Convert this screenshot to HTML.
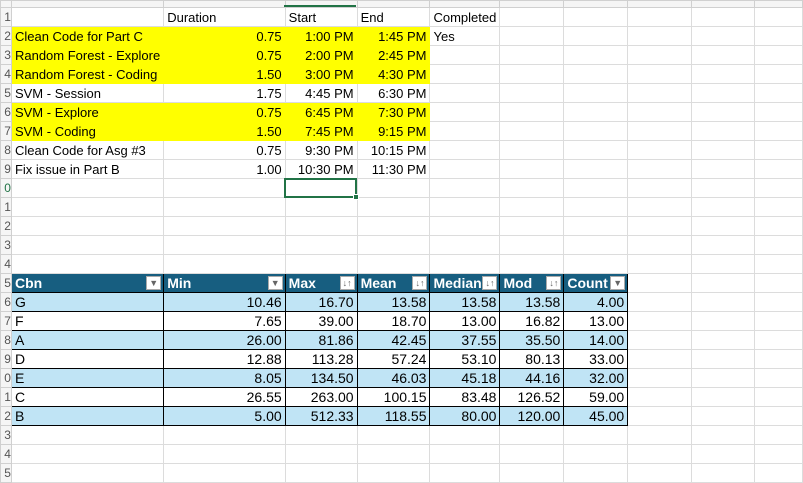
<!DOCTYPE html>
<html><head><meta charset="utf-8">
<style>
*{box-sizing:border-box;margin:0;padding:0}
body{width:803px;height:476px;overflow:hidden;background:#fff;font-family:"Liberation Sans",sans-serif;font-size:13px;color:#000;position:relative}
table{border-collapse:collapse;table-layout:fixed;position:absolute;left:0;top:0}
tr{height:19px}
td{height:18px;border:1px solid #dcdcdc;padding:0 3px;white-space:nowrap;overflow:hidden;line-height:17px}
td.r{text-align:right}
tr.hdr{height:7px}
tr.hdr td{height:6px;background:#f5f5f5;border-color:#d0d0d0;padding:0}
td.rh{background:#f5f5f5;color:#555;font-size:12px;padding:0;text-align:right;border-color:#d0d0d0;overflow:hidden}
td.y{background:#ffff00;border-color:#ffff00}
.t td.c{font-family:"Liberation Sans Narrow","Liberation Sans",sans-serif;font-size:14px;border:1px solid #000}
.t.b td.c{background:#c0e4f5}
.th td.c{background:#175e80;color:#fff;font-weight:bold;font-family:"Liberation Sans Narrow","Liberation Sans",sans-serif;font-size:14px;border:1px solid #000;position:relative}
.dd{position:absolute;right:2px;top:2px;width:15px;height:14px;background:#fff;border:1px solid #aaa;color:#666;font-size:9px;line-height:12px;text-align:center;font-weight:normal}
.sel{position:absolute;left:284px;top:178px;width:73px;height:20px;border:2px solid #217346}
.selh{position:absolute;left:353px;top:194px;width:6px;height:6px;background:#217346;border:1px solid #fff}
.colsel{position:absolute;left:284px;top:5px;width:72px;height:2px;background:#217346}
</style></head><body>
<table>
<colgroup><col style="width:11px"><col style="width:151px"><col style="width:122px"><col style="width:72px"><col style="width:73px"><col style="width:70px"><col style="width:64px"><col style="width:64px"><col style="width:64px"><col style="width:64px"><col style="width:48px"></colgroup>
<tr class="hdr"><td></td><td></td><td></td><td></td><td></td><td></td><td></td><td></td><td></td><td></td><td></td></tr>
<tr><td class="rh">1</td><td></td><td>Duration</td><td>Start</td><td>End</td><td>Completed</td><td></td><td></td><td></td><td></td><td></td></tr>
<tr><td class="rh">2</td><td class="y">Clean Code for Part C</td><td class="y r">0.75</td><td class="y r">1:00 PM</td><td class="y r">1:45 PM</td><td>Yes</td><td></td><td></td><td></td><td></td><td></td></tr>
<tr><td class="rh">3</td><td class="y">Random Forest - Explore</td><td class="y r">0.75</td><td class="y r">2:00 PM</td><td class="y r">2:45 PM</td><td></td><td></td><td></td><td></td><td></td><td></td></tr>
<tr><td class="rh">4</td><td class="y">Random Forest - Coding</td><td class="y r">1.50</td><td class="y r">3:00 PM</td><td class="y r">4:30 PM</td><td></td><td></td><td></td><td></td><td></td><td></td></tr>
<tr><td class="rh">5</td><td>SVM - Session</td><td class="r">1.75</td><td class="r">4:45 PM</td><td class="r">6:30 PM</td><td></td><td></td><td></td><td></td><td></td><td></td></tr>
<tr><td class="rh">6</td><td class="y">SVM - Explore</td><td class="y r">0.75</td><td class="y r">6:45 PM</td><td class="y r">7:30 PM</td><td></td><td></td><td></td><td></td><td></td><td></td></tr>
<tr><td class="rh">7</td><td class="y">SVM - Coding</td><td class="y r">1.50</td><td class="y r">7:45 PM</td><td class="y r">9:15 PM</td><td></td><td></td><td></td><td></td><td></td><td></td></tr>
<tr><td class="rh">8</td><td>Clean Code for Asg #3</td><td class="r">0.75</td><td class="r">9:30 PM</td><td class="r">10:15 PM</td><td></td><td></td><td></td><td></td><td></td><td></td></tr>
<tr><td class="rh">9</td><td>Fix issue in Part B</td><td class="r">1.00</td><td class="r">10:30 PM</td><td class="r">11:30 PM</td><td></td><td></td><td></td><td></td><td></td><td></td></tr>
<tr><td class="rh" style="color:#217346">0</td><td></td><td></td><td></td><td></td><td></td><td></td><td></td><td></td><td></td><td></td></tr>
<tr><td class="rh">1</td><td></td><td></td><td></td><td></td><td></td><td></td><td></td><td></td><td></td><td></td></tr>
<tr><td class="rh">2</td><td></td><td></td><td></td><td></td><td></td><td></td><td></td><td></td><td></td><td></td></tr>
<tr><td class="rh">3</td><td></td><td></td><td></td><td></td><td></td><td></td><td></td><td></td><td></td><td></td></tr>
<tr><td class="rh">4</td><td></td><td></td><td></td><td></td><td></td><td></td><td></td><td></td><td></td><td></td></tr>
<tr class="th"><td class="rh">5</td>
<td class="c">Cbn<span class="dd">▼</span></td>
<td class="c">Min<span class="dd">▼</span></td>
<td class="c">Max<span class="dd">↓↑</span></td>
<td class="c">Mean<span class="dd">↓↑</span></td>
<td class="c">Median<span class="dd">↓↑</span></td>
<td class="c">Mod<span class="dd">↓↑</span></td>
<td class="c">Count<span class="dd">▼</span></td>
<td></td><td></td><td></td></tr>
<tr class="t b"><td class="rh">6</td><td class="c">G</td><td class="c r">10.46</td><td class="c r">16.70</td><td class="c r">13.58</td><td class="c r">13.58</td><td class="c r">13.58</td><td class="c r">4.00</td><td></td><td></td><td></td></tr>
<tr class="t"><td class="rh">7</td><td class="c">F</td><td class="c r">7.65</td><td class="c r">39.00</td><td class="c r">18.70</td><td class="c r">13.00</td><td class="c r">16.82</td><td class="c r">13.00</td><td></td><td></td><td></td></tr>
<tr class="t b"><td class="rh">8</td><td class="c">A</td><td class="c r">26.00</td><td class="c r">81.86</td><td class="c r">42.45</td><td class="c r">37.55</td><td class="c r">35.50</td><td class="c r">14.00</td><td></td><td></td><td></td></tr>
<tr class="t"><td class="rh">9</td><td class="c">D</td><td class="c r">12.88</td><td class="c r">113.28</td><td class="c r">57.24</td><td class="c r">53.10</td><td class="c r">80.13</td><td class="c r">33.00</td><td></td><td></td><td></td></tr>
<tr class="t b"><td class="rh">0</td><td class="c">E</td><td class="c r">8.05</td><td class="c r">134.50</td><td class="c r">46.03</td><td class="c r">45.18</td><td class="c r">44.16</td><td class="c r">32.00</td><td></td><td></td><td></td></tr>
<tr class="t"><td class="rh">1</td><td class="c">C</td><td class="c r">26.55</td><td class="c r">263.00</td><td class="c r">100.15</td><td class="c r">83.48</td><td class="c r">126.52</td><td class="c r">59.00</td><td></td><td></td><td></td></tr>
<tr class="t b"><td class="rh">2</td><td class="c">B</td><td class="c r">5.00</td><td class="c r">512.33</td><td class="c r">118.55</td><td class="c r">80.00</td><td class="c r">120.00</td><td class="c r">45.00</td><td></td><td></td><td></td></tr>
<tr><td class="rh">3</td><td></td><td></td><td></td><td></td><td></td><td></td><td></td><td></td><td></td><td></td></tr>
<tr><td class="rh">4</td><td></td><td></td><td></td><td></td><td></td><td></td><td></td><td></td><td></td><td></td></tr>
<tr><td class="rh">5</td><td></td><td></td><td></td><td></td><td></td><td></td><td></td><td></td><td></td><td></td></tr>
</table>
<div class="colsel"></div>
<div class="sel"></div>
<div class="selh"></div>
</body></html>
